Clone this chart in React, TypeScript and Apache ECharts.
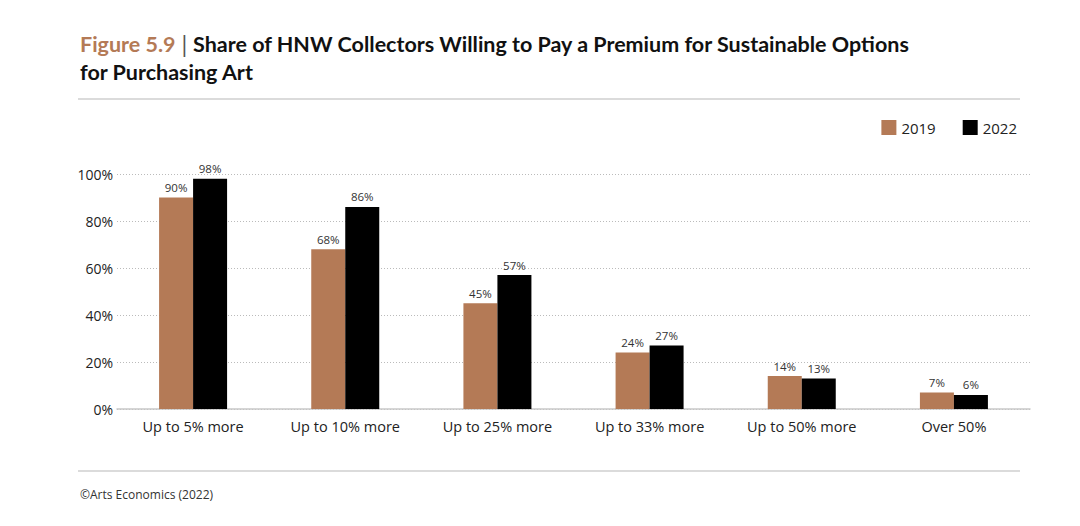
import React, { useEffect, useRef } from "react";
import * as echarts from "echarts";

const categories = ["Up to 5% more", "Up to 10% more", "Up to 25% more", "Up to 33% more", "Up to 50% more", "Over 50%"];
const values2019 = [90, 68, 45, 24, 14, 7];
const values2022 = [98, 86, 57, 27, 13, 6];
const yTicks = [0, 20, 40, 60, 80, 100];

const BROWN = "#b47a56";
const FONT = "'Open Sans', 'Noto Sans', sans-serif";

export default function App() {
  const ref = useRef<HTMLDivElement>(null);
  useEffect(() => {
    if (!ref.current) return;
    const chart = echarts.init(ref.current, undefined, { renderer: "svg" });
    chart.setOption({
      animation: false,
      backgroundColor: "#fff",
      textStyle: { fontFamily: FONT },
      title: {
        left: 75,
        top: 25,
        text: "{a|Figure 5.9}{b| | }{c|Share of HNW Collectors Willing to Pay a Premium for Sustainable Options}\n{c|for Purchasing Art}",
        textStyle: {
          rich: {
            a: { fontFamily: "Lato", fontWeight: "bold", fontSize: 21.5, color: BROWN, lineHeight: 28 },
            b: { fontFamily: "Lato", fontWeight: "normal", fontSize: 23, color: "#555", lineHeight: 28 },
            c: { fontFamily: "Lato", fontWeight: "bold", fontSize: 21.5, color: "#111", lineHeight: 28 },
          },
        },
      },
      legend: {
        right: 58,
        top: 115,
        itemWidth: 15,
        itemHeight: 15,
        itemGap: 27,
        icon: "rect",
        textStyle: { fontSize: 15, color: "#222", fontFamily: FONT },
        data: ["2019", "2022"],
      },
      grid: { left: 117, right: 50, top: 174, bottom: 117, containLabel: false },
      xAxis: {
        type: "category",
        data: categories,
        axisLine: { lineStyle: { color: "#c8c8c8", width: 1.5 } },
        axisTick: { show: false },
        axisLabel: { fontSize: 14.5, color: "#222", margin: 10, fontFamily: FONT },
      },
      yAxis: {
        type: "value",
        min: yTicks[0],
        max: yTicks[yTicks.length - 1],
        interval: 20,
        axisLine: { show: false },
        axisTick: { show: false },
        axisLabel: { fontSize: 14, color: "#222", margin: 4, formatter: "{value}%", fontFamily: FONT },
        splitLine: { lineStyle: { color: "#bbb", type: [1, 2], width: 1 } },
      },
      series: [
        {
          name: "2019",
          type: "bar",
          data: values2019,
          barWidth: 34,
          barGap: "0%",
          itemStyle: { color: BROWN },
          label: { show: true, position: "top", distance: 4, fontSize: 11.5, color: "#333", formatter: "{c}%" },
        },
        {
          name: "2022",
          type: "bar",
          data: values2022,
          barWidth: 34,
          barGap: "0%",
          itemStyle: { color: "#000" },
          label: { show: true, position: "top", distance: 4, fontSize: 11.5, color: "#333", formatter: "{c}%" },
        },
      ],
      graphic: [
        { type: "line", shape: { x1: 78, y1: 99, x2: 1020, y2: 99 }, style: { stroke: "#cfcfcf", lineWidth: 1.5 } },
        { type: "line", shape: { x1: 78, y1: 471, x2: 1020, y2: 471 }, style: { stroke: "#cfcfcf", lineWidth: 1.5 } },
        {
          type: "text",
          left: 80,
          top: 488,
          style: { text: "©Arts Economics (2022)", fontSize: 12, fill: "#333", fontFamily: FONT },
        },
      ],
    });
    return () => chart.dispose();
  }, []);
  return <div ref={ref} style={{ width: 1080, height: 526, position: "absolute", left: 0, top: 0 }} />;
}
